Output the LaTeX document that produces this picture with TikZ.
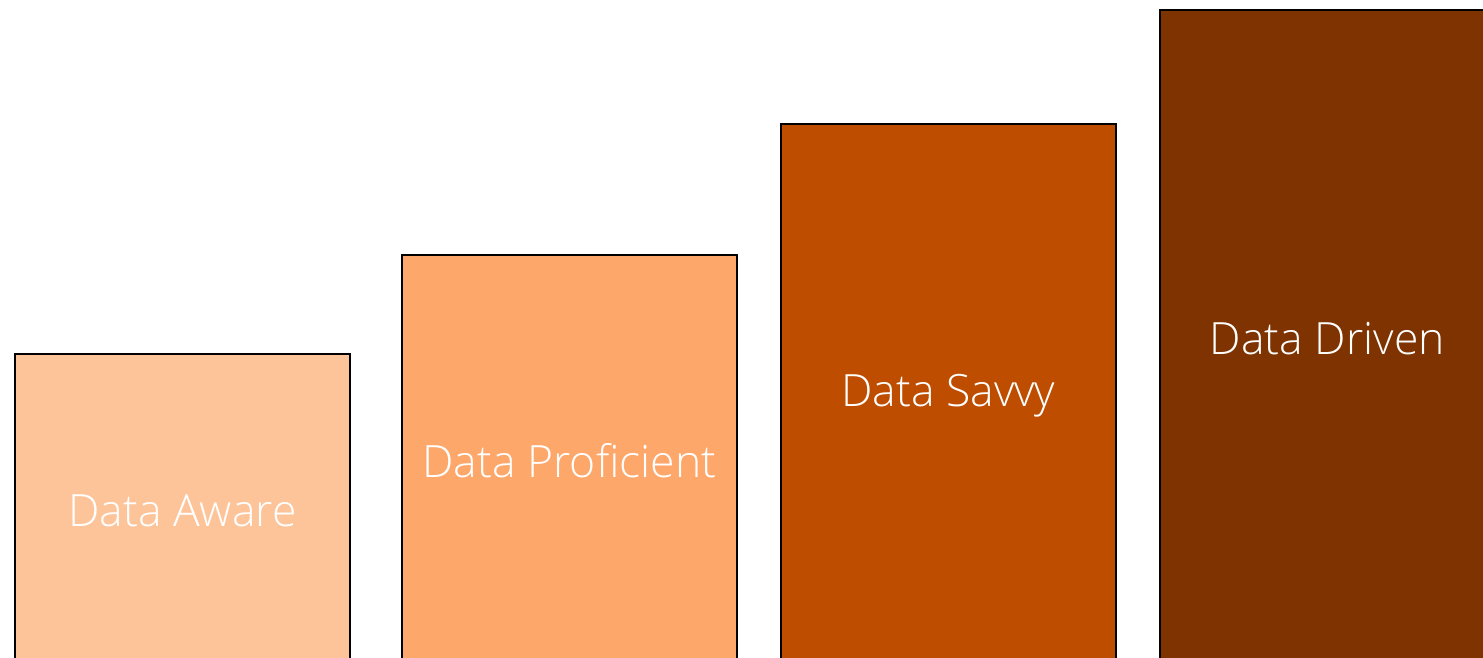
\documentclass[tikz,border=0pt]{standalone}
\usepackage{fontspec}
\setmainfont{Open Sans Light}
\definecolor{cA}{HTML}{FDC49A}
\definecolor{cB}{HTML}{FDA76A}
\definecolor{cC}{HTML}{BE4D00}
\definecolor{cD}{HTML}{7E3300}
\tikzset{
  bar/.style={draw=black, line width=2pt, anchor=north west, inner sep=0pt, minimum width=335pt},
  lbl/.style={text=white, font=\fontsize{44.5}{50}\selectfont}
}
\begin{document}
\begin{tikzpicture}[x=1pt,y=-1pt]
\useasboundingbox (0,0) rectangle (1483,658);
\clip (0,0) rectangle (1483,658);
\fill[white] (0,0) rectangle (1483,658);
\node[bar, fill=cA, minimum height=313pt] (b1) at (13.8,352.8) {};
\node[bar, fill=cB, minimum height=412pt] (b2) at (400.8,253.8) {};
\node[bar, fill=cC, minimum height=543pt] (b3) at (779.8,122.8) {};
\node[bar, fill=cD, minimum height=657pt] (b4) at (1158.8,8.8) {};
\node[lbl] (t1) at (b1.center) {Data Aware};
\node[lbl] (t2) at (b2.center) {Data Proficient};
\node[lbl] (t3) at (b3.center) {Data Savvy};
\node[lbl] (t4) at (b4.center) {Data Driven};
\end{tikzpicture}
\end{document}
